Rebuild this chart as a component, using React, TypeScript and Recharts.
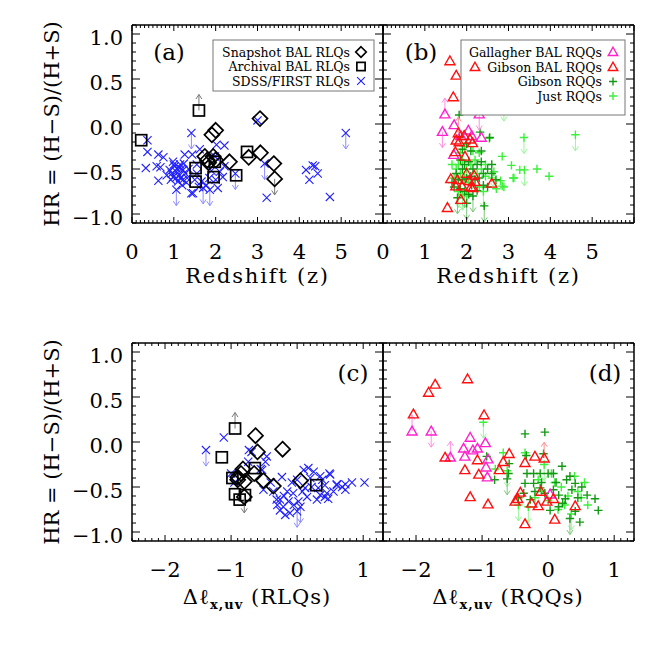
import React from "react";
import { ScatterChart, Scatter, XAxis, YAxis, ReferenceLine } from "recharts";

// [x, HR, limit] ; limit: 'u' = lower limit (arrow up), 'd' = upper limit (arrow down), 'b' = both
type Pt = [number, number, string?];

// (a) redshift, RLQs
const snapshotZ: Pt[] = [
  [3.06, 0.06], [2.0, -0.07], [1.91, -0.12], [1.74, -0.36], [1.8, -0.4], [1.94, -0.36], [2.0, -0.4],
  [1.83, -0.43], [2.33, -0.42], [2.79, -0.37], [3.07, -0.32], [3.39, -0.44], [3.41, -0.61, "d"],
];
const archivalZ: Pt[] = [
  [1.6, 0.15, "u"], [0.22, -0.18], [2.75, -0.31], [1.52, -0.49], [1.52, -0.64], [1.95, -0.59], [2.49, -0.57], [1.98, -0.42],
];
const sdssZ: Pt[] = [
  [0.37, -0.18], [0.37, -0.31], [0.33, -0.49], [0.63, -0.34], [0.75, -0.37], [0.59, -0.47], [0.68, -0.48], [0.63, -0.63],
  [0.83, -0.57], [0.98, -0.42], [0.9, -0.51], [1.02, -0.47], [1.06, -0.53], [0.98, -0.59], [1.14, -0.57], [1.1, -0.64],
  [1.22, -0.62], [1.06, -0.73, "d"], [1.22, -0.51], [1.26, -0.34], [1.42, -0.1, "d"], [1.44, -0.34], [1.42, -0.77],
  [1.66, -0.64], [1.7, -0.71, "d"], [1.86, -0.73, "d"], [1.78, -0.68], [2.02, -0.23], [2.21, -0.24], [1.98, -0.36],
  [2.05, -0.71], [2.1, -0.53], [2.17, -0.59], [3.0, 0.04], [3.17, -0.44, "d"], [3.22, -0.82], [4.16, -0.51], [4.24, -0.62],
  [4.32, -0.46], [4.38, -0.47], [4.44, -0.55], [4.73, -0.81], [5.11, -0.1, "d"], [2.21, -0.47], [1.46, -0.77],
  [1.15, -0.45], [1.18, -0.5], [1.28, -0.55], [1.05, -0.6], [0.95, -0.55], [1.12, -0.48], [1.32, -0.6], [1.5, -0.62],
  [1.6, -0.7], [2.47, -0.55, "d"], [1.0, -0.45], [1.08, -0.5], [1.15, -0.6], [1.2, -0.68], [1.3, -0.65], [0.93, -0.62],
  [1.24, -0.44], [1.35, -0.5], [1.55, -0.45], [1.62, -0.28], [1.9, -0.52], [1.85, -0.6], [2.0, -0.62], [1.55, -0.55],
];

// (b) redshift, RQQs
const gallagherZ: Pt[] = [
  [1.48, 0.11, "u"], [1.42, -0.085, "d"], [1.7, -0.01], [2.04, -0.07], [2.12, -0.13], [2.3, 0.11, "b"], [2.35, -0.15],
  [1.69, -0.34], [1.86, -0.13],
];
const gibsonBalZ: Pt[] = [
  [1.6, 0.7], [1.75, 0.54], [1.68, 0.3], [2.49, 0.3], [1.54, -0.93], [1.75, -0.18], [1.82, -0.2], [1.94, -0.13],
  [2.08, -0.17], [2.14, -0.21], [1.73, -0.31], [1.96, -0.36], [1.62, -0.61], [1.78, -0.62], [1.89, -0.69], [2.1, -0.7],
  [2.18, -0.57], [2.15, -0.71], [1.86, -0.84], [2.6, -0.66], [2.06, -0.63], [1.74, -0.69], [1.8, -0.1, "u"], [2.2, -0.64],
  [2.0, -0.55],
];
const gibsonZ: Pt[] = [
  [1.82, 0.1], [2.32, -0.09], [2.55, -0.15], [2.42, -0.91, "d"], [1.83, -0.15], [1.9, -0.28], [2.0, -0.22], [2.1, -0.3],
  [1.85, -0.4], [1.95, -0.45], [2.05, -0.42], [2.15, -0.5], [2.25, -0.45], [2.35, -0.42], [1.75, -0.55], [1.8, -0.62],
  [1.9, -0.5], [2.0, -0.6], [2.1, -0.58], [2.2, -0.62], [2.3, -0.6], [2.4, -0.55], [2.5, -0.5], [1.7, -0.7], [1.85, -0.72],
  [1.95, -0.75, "d"], [2.05, -0.78], [2.15, -0.8, "d"], [2.25, -0.74], [2.4, -0.68], [1.78, -0.82, "d"], [2.0, -0.88, "d"],
  [2.6, -0.55], [2.7, -0.62], [1.65, -0.65], [2.5, -0.7], [1.9, -0.62], [2.12, -0.68], [2.35, -0.3], [2.6, -0.45],
];
const justZ: Pt[] = [
  [2.89, 0.21, "d"], [3.37, -0.15, "d"], [4.6, -0.12, "d"], [2.85, -0.36], [3.07, -0.46], [3.27, -0.51], [3.38, -0.51, "d"],
  [3.11, -0.6], [3.68, -0.5], [3.97, -0.58], [3.13, -0.6], [2.85, -0.69], [2.71, -0.72], [2.45, -0.58], [2.54, -0.16],
  [1.8, -0.45], [1.9, -0.4], [2.0, -0.5], [2.1, -0.45], [2.2, -0.4], [1.85, -0.55], [1.95, -0.6], [2.05, -0.65],
  [2.25, -0.55], [2.35, -0.5], [1.75, -0.5], [1.7, -0.6], [1.8, -0.75, "d"], [1.9, -0.78, "d"], [2.3, -0.7],
  [2.4, -0.75, "d"], [2.15, -0.3], [1.95, -0.25], [2.0, -0.8], [1.65, -0.45], [2.3, -0.32], [2.45, -0.45], [2.6, -0.6],
  [2.65, -0.53, "d"], [1.85, -0.32], [2.81, -0.63], [2.89, -0.7],
];

// (c) delta l_x,uv, RLQs
const snapshotD: Pt[] = [
  [-0.63, 0.07], [-0.6, -0.11], [-0.22, -0.08], [-0.82, -0.3], [-0.85, -0.35], [-0.9, -0.39], [-0.8, -0.44],
  [-0.65, -0.35], [-0.51, -0.43], [-0.36, -0.49], [0.05, -0.43], [-0.8, -0.61, "d"], [-0.9, -0.42],
];
const archivalD: Pt[] = [
  [-0.94, 0.15, "u"], [-1.14, -0.17], [-0.98, -0.4], [-0.64, -0.29], [-0.94, -0.58], [-0.87, -0.64], [-0.79, -0.59], [0.29, -0.48],
];
const sdssD: Pt[] = [
  [-1.38, -0.09, "d"], [-1.11, 0.05], [-0.73, -0.09], [-0.74, -0.22], [-0.46, -0.16], [-0.48, -0.22], [-0.69, -0.11],
  [-0.53, -0.31], [-0.23, -0.39], [-0.51, -0.53], [-0.36, -0.55], [-0.26, -0.64], [-0.21, -0.72], [-0.26, -0.76],
  [-0.18, -0.81], [-0.11, -0.79], [-0.13, -0.66], [-0.06, -0.57], [0.0, -0.42], [0.02, -0.66], [0.05, -0.72, "d"],
  [0.1, -0.31], [0.17, -0.29], [0.25, -0.33], [0.12, -0.51], [0.15, -0.61], [0.3, -0.64], [0.35, -0.59], [0.42, -0.61],
  [0.47, -0.63], [0.49, -0.35], [0.42, -0.48], [0.6, -0.48], [0.68, -0.5], [0.73, -0.53], [0.83, -0.45], [1.02, -0.45],
  [0.2, -0.4], [0.32, -0.51], [-0.31, -0.64], [0.35, -0.38], [0.5, -0.36], [0.45, -0.57], [0.0, -0.77, "d"], [0.6, -0.47],
  [0.73, -0.47], [-0.95, -0.45], [-1.0, -0.35], [-0.55, -0.3], [-0.4, -0.45], [-0.15, -0.55], [-0.05, -0.7], [0.08, -0.55],
  [0.22, -0.5], [-0.3, -0.7], [-0.2, -0.6], [0.38, -0.42], [0.55, -0.55], [-0.08, -0.45],
];

// (d) delta l_x,uv, RQQs
const gallagherD: Pt[] = [
  [-2.06, 0.12, "u"], [-1.77, 0.12, "d"], [-1.48, -0.17, "u"], [-1.18, 0.05], [-1.28, -0.07], [-1.14, -0.09],
  [-1.07, -0.07], [-1.26, -0.16], [-0.95, -0.01], [-0.91, -0.19], [-0.94, -0.28], [-0.92, -0.39], [0.03, -0.58],
];
const gibsonBalD: Pt[] = [
  [-1.71, 0.64], [-1.81, 0.55], [-1.22, 0.7], [-2.04, 0.31], [-0.97, 0.3], [-1.56, -0.17], [-1.26, -0.31], [-1.07, -0.2],
  [-1.05, -0.36], [-1.18, -0.61], [-0.91, -0.69], [-0.74, -0.31], [-0.59, -0.13], [-0.68, -0.22], [-0.35, -0.23],
  [-0.2, -0.16], [-0.06, -0.18, "u"], [-0.42, -0.56], [-0.46, -0.63], [-0.5, -0.66], [-0.25, -0.68], [-0.15, -0.71],
  [-0.35, -0.91], [-0.11, -0.55], [-0.02, -0.66], [0.08, -0.63], [0.41, -0.71], [0.1, -0.86],
];
const gibsonD: Pt[] = [
  [-0.33, -0.15], [-0.59, -0.24], [-0.6, -0.35], [-0.62, -0.41, "d"], [-0.07, -0.13], [-0.32, -0.35], [-0.22, -0.35],
  [-0.12, -0.35], [0.0, -0.35], [0.08, -0.35], [0.21, -0.27], [0.33, -0.38], [0.41, -0.46], [0.51, -0.5], [0.59, -0.59],
  [0.71, -0.63], [0.76, -0.76], [0.48, -0.89], [0.33, -0.85, "d"], [-0.35, -0.46], [-0.22, -0.46], [-0.12, -0.51],
  [-0.05, -0.57], [0.08, -0.53], [0.16, -0.59], [0.26, -0.63], [-0.27, -0.64], [-0.37, -0.57], [0.03, -0.76],
  [0.16, -0.72], [0.41, -0.77], [0.28, -0.42], [0.36, -0.53], [-0.35, 0.09], [-0.05, 0.11], [-0.81, -0.42],
  [-0.93, -0.16], [-0.1, -0.45], [0.12, -0.45], [-0.2, -0.55], [0.22, -0.68], [0.45, -0.62], [-0.45, -0.62],
];
const justD: Pt[] = [
  [-0.98, 0.22, "d"], [-0.68, -0.12], [-0.62, -0.32, "d"], [-0.35, -0.12], [-0.06, -0.25, "d"], [0.3, -0.6], [0.45, -0.55],
  [0.5, -0.62], [0.35, -0.8, "d"], [0.2, -0.5], [0.1, -0.45], [-0.1, -0.55], [-0.2, -0.62], [-0.3, -0.72, "d"], [0.0, -0.65],
  [0.25, -0.7], [0.55, -0.45], [-0.15, -0.42], [0.4, -0.38], [0.15, -0.75], [-0.45, -0.7, "d"], [0.6, -0.7], [-0.8, -0.3],
  [0.05, -0.35],
];

const zLabels = [0, 1, 2, 3, 4, 5];
const zMajor = [0, 1, 2, 3, 4, 5, 6];
const dLabels = [-2, -1, 0, 1];
const hrLabels = [-1, -0.5, 0, 0.5, 1];

const FONT = '"DejaVu Serif", serif';
const range = (a: number, b: number, s: number) => {
  const out: number[] = [];
  for (let v = a; v <= b + 1e-9; v += s) out.push(Math.round(v * 10) / 10);
  return out;
};

const STYLES: Record<string, { shape: string; color: string; lim: string }> = {
  snapshot: { shape: "diamond", color: "#000", lim: "#777" },
  archival: { shape: "square", color: "#000", lim: "#777" },
  sdss: { shape: "cross", color: "#2020ff", lim: "#8c8cff" },
  gallagher: { shape: "tri", color: "#ff22cc", lim: "#ff90e0" },
  gibsonBal: { shape: "tri", color: "#ff1010", lim: "#ff9090" },
  gibson: { shape: "plus", color: "#139913", lim: "#7cc87c" },
  just: { shape: "plus", color: "#3cf03c", lim: "#9cf59c" },
};

function Glyph({ shape, color, cx, cy, s = 1 }: any) {
  if (shape === "diamond") {
    const r = 7.5 * s;
    return <path d={`M${cx},${cy - r}L${cx + r},${cy}L${cx},${cy + r}L${cx - r},${cy}Z`} fill="none" stroke={color} strokeWidth={1.7} />;
  }
  if (shape === "square") {
    const h = 5.5 * s;
    return <rect x={cx - h} y={cy - h} width={2 * h} height={2 * h} fill="none" stroke={color} strokeWidth={1.7} />;
  }
  if (shape === "cross") {
    const h = 4.1 * s;
    return <path d={`M${cx - h},${cy - h}L${cx + h},${cy + h}M${cx - h},${cy + h}L${cx + h},${cy - h}`} stroke={color} strokeWidth={1.1} />;
  }
  if (shape === "tri") {
    const h = 5 * s;
    return <path d={`M${cx},${cy - h}L${cx + h},${cy + h * 0.75}L${cx - h},${cy + h * 0.75}Z`} fill="none" stroke={color} strokeWidth={1.4} />;
  }
  const h = 4.2 * s;
  return <path d={`M${cx - h},${cy}L${cx + h},${cy}M${cx},${cy - h}L${cx},${cy + h}`} stroke={color} strokeWidth={1.4} />;
}

function Arrow({ cx, cy, dir, color }: any) {
  const tip = cy + dir * 16;
  return (
    <path
      d={`M${cx},${cy}L${cx},${tip}M${cx - 3},${tip - dir * 4.5}L${cx},${tip}L${cx + 3},${tip - dir * 4.5}`}
      stroke={color}
      fill="none"
      strokeWidth={1}
    />
  );
}

const makeShape = (key: string) => (props: any) => {
  const { cx, cy, payload } = props;
  const st = STYLES[key];
  const lim = payload.lim;
  return (
    <g>
      {(lim === "u" || lim === "b") && <Arrow cx={cx} cy={cy} dir={-1} color={st.lim} />}
      {(lim === "d" || lim === "b") && <Arrow cx={cx} cy={cy} dir={1} color={st.lim} />}
      <Glyph shape={st.shape} color={st.color} cx={cx} cy={cy} />
    </g>
  );
};

const toRows = (pts: Pt[]) => pts.map(([x, y, lim]) => ({ x, y, lim }));
const fmtX = (v: number) => (v < 0 ? `\u2212${Math.abs(v)}` : `${v}`);
const fmtY = (v: number) => (v < 0 ? "\u2212" : "") + Math.abs(v).toFixed(1);

const PW = 251;
const PH = 198;
const frame = { stroke: "#000", strokeWidth: 1.5 };
const hrMinor = range(-1.1, 1.1, 0.1);

function Panel({ left, top, domain, labels, major, minor, showY, series }: any) {
  // bottom axis ticks also draw the matching inward tick on the top edge
  const xTick = (p: any) => {
    const v = p.payload.value;
    const len = major.includes(v) ? 6 : 3;
    return (
      <g>
        <line x1={p.x} x2={p.x} y1={p.y} y2={p.y - len} stroke="#000" />
        <line x1={p.x} x2={p.x} y1={p.y - PH} y2={p.y - PH + len} stroke="#000" />
        {labels.includes(v) && (
          <text x={p.x} y={p.y + 35.5} textAnchor="middle" fontSize={21} fontFamily={FONT} fill="#000">
            {fmtX(v)}
          </text>
        )}
      </g>
    );
  };
  // left axis ticks also draw the matching inward tick on the right edge
  const yTick = (p: any) => {
    const v = p.payload.value;
    const len = hrLabels.includes(v) ? 8 : 4;
    return (
      <g>
        <line x1={p.x} x2={p.x + len} y1={p.y} y2={p.y} stroke="#000" />
        <line x1={p.x + PW} x2={p.x + PW - len} y1={p.y} y2={p.y} stroke="#000" />
        {showY && hrLabels.includes(v) && (
          <text x={p.x - 9} y={p.y + 11} textAnchor="end" fontSize={21} fontFamily={FONT} fill="#000">
            {fmtY(v)}
          </text>
        )}
      </g>
    );
  };
  return (
    <div style={{ position: "absolute", left: left - 60, top: top - 10 }}>
      <ScatterChart width={PW + 70} height={PH + 55} margin={{ top: 10, right: 10, bottom: 0, left: 0 }}>
        <XAxis
          xAxisId="x" dataKey="x" type="number" domain={domain} allowDataOverflow ticks={minor} interval={0}
          height={45} tickLine={false} tickSize={0} tickMargin={0} axisLine={frame} tick={xTick}
        />
        <YAxis
          yAxisId="y" dataKey="y" type="number" domain={[-1.1, 1.1]} allowDataOverflow ticks={hrMinor} interval={0}
          width={60} tickLine={false} tickSize={0} tickMargin={0} axisLine={frame} tick={yTick}
        />
        <ReferenceLine xAxisId="x" yAxisId="y" y={1.1} stroke="#000" strokeWidth={1.5} />
        <ReferenceLine xAxisId="x" yAxisId="y" x={domain[1]} stroke="#000" strokeWidth={1.5} />
        {series.map(([key, pts]: [string, Pt[]]) => (
          <Scatter key={key} xAxisId="x" yAxisId="y" data={toRows(pts)} shape={makeShape(key)} isAnimationActive={false} />
        ))}
      </ScatterChart>
    </div>
  );
}

function LegendRow({ x, y, label, kind }: any) {
  const st = STYLES[kind];
  const scale = st.shape === "diamond" ? 0.7 : st.shape === "square" ? 0.75 : 0.95;
  return (
    <g>
      <text x={x} y={y + 4.5} textAnchor="end" fontSize={12.5} fontFamily={FONT} fill="#000">{label}</text>
      <Glyph shape={st.shape} color={st.color} cx={x + 11} cy={y} s={scale} />
    </g>
  );
}

function XTitle({ x, y, tag }: any) {
  return (
    <text x={x} y={y} textAnchor="middle" fontSize={21} fontFamily={FONT} fill="#000" letterSpacing={1}>
      {"\u0394\u2113"}
      <tspan fontSize={13} fontWeight="bold" dy={5}>x,uv</tspan>
      <tspan dy={-5}>{` (${tag})`}</tspan>
    </text>
  );
}

export default function App() {
  const zMinor = range(0, 6, 0.1);
  const dMinor = range(-2.5, 1.3, 0.1);
  const yTitle = "HR = (H\u2212S)/(H+S)";
  return (
    <div style={{ position: "absolute", left: 0, top: 0, width: 661, height: 661, background: "#fff" }}>
      <Panel left={132} top={25} domain={[0, 6]} labels={zLabels} major={zMajor} minor={zMinor} showY
        series={[["sdss", sdssZ], ["archival", archivalZ], ["snapshot", snapshotZ]]} />
      <Panel left={383} top={25} domain={[0, 6]} labels={zLabels} major={zMajor} minor={zMinor} showY={false}
        series={[["just", justZ], ["gibson", gibsonZ], ["gallagher", gallagherZ], ["gibsonBal", gibsonBalZ]]} />
      <Panel left={132} top={343} domain={[-2.5, 1.3]} labels={dLabels} major={dLabels} minor={dMinor} showY
        series={[["sdss", sdssD], ["archival", archivalD], ["snapshot", snapshotD]]} />
      <Panel left={383} top={343} domain={[-2.5, 1.3]} labels={dLabels} major={dLabels} minor={dMinor} showY={false}
        series={[["just", justD], ["gibson", gibsonD], ["gallagher", gallagherD], ["gibsonBal", gibsonBalD]]} />

      <svg width={661} height={661} style={{ position: "absolute", left: 0, top: 0, pointerEvents: "none" }}>
        <text x={59} y={124} transform="rotate(-90 59 124)" textAnchor="middle" fontSize={21} fontFamily={FONT}>{yTitle}</text>
        <text x={59} y={442} transform="rotate(-90 59 442)" textAnchor="middle" fontSize={21} fontFamily={FONT}>{yTitle}</text>
        <text x={257.5} y={283} textAnchor="middle" fontSize={21} fontFamily={FONT} letterSpacing={1.8}>Redshift (z)</text>
        <text x={508.5} y={283} textAnchor="middle" fontSize={21} fontFamily={FONT} letterSpacing={1.8}>Redshift (z)</text>
        <XTitle x={257} y={604} tag="RLQs" />
        <XTitle x={508} y={604} tag="RQQs" />

        <text x={169} y={60} textAnchor="middle" fontSize={23} fontFamily={FONT}>(a)</text>
        <text x={421} y={60} textAnchor="middle" fontSize={23} fontFamily={FONT}>(b)</text>
        <text x={353} y={381} textAnchor="middle" fontSize={23} fontFamily={FONT}>(c)</text>
        <text x={605} y={381} textAnchor="middle" fontSize={23} fontFamily={FONT}>(d)</text>

        <rect x={213} y={40} width={161} height={51} fill="#fff" stroke="#777" strokeWidth={1} />
        <LegendRow x={350} y={52} label="Snapshot BAL RLQs" kind="snapshot" />
        <LegendRow x={350} y={66.5} label="Archival BAL RLQs" kind="archival" />
        <LegendRow x={350} y={81} label="SDSS/FIRST RLQs" kind="sdss" />

        <rect x={461} y={40} width={164} height={75} fill="#fff" stroke="#777" strokeWidth={1} />
        <LegendRow x={602} y={52} label="Gallagher BAL RQQs" kind="gallagher" />
        <LegendRow x={602} y={67} label="Gibson BAL RQQs" kind="gibsonBal" />
        <Glyph shape="tri" color={STYLES.gibsonBal.color} cx={475} cy={67} s={0.95} />
        <LegendRow x={602} y={81.5} label="Gibson RQQs" kind="gibson" />
        <LegendRow x={602} y={96} label="Just RQQs" kind="just" />
      </svg>
    </div>
  );
}
